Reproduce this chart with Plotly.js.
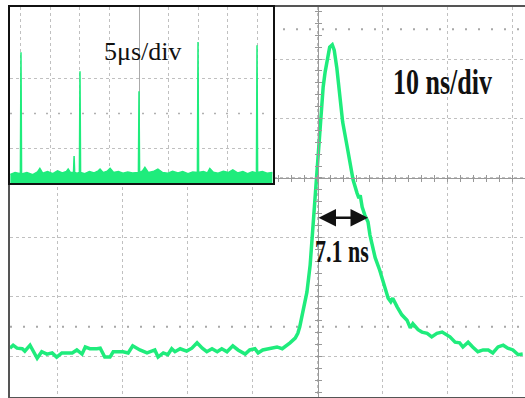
<!DOCTYPE html>
<html>
<head>
<meta charset="utf-8">
<script src="https://cdn.plot.ly/plotly-3.0.1.min.js"></script>
<style>html,body{margin:0;padding:0;background:#fff;}#chart{width:525px;height:398px;}</style>
</head>
<body>
<div id="chart"></div>
<script>
// ---- main trace: pulse, 10 ns/div (time in ns, amplitude in divisions) ----
var time_ns = [-47.4,-46.9,-46.3,-45.5,-45.1,-44.3,-43.2,-42.5,-41.7,-40.9,-40.2,-39.4,-38.6,-37.8,-37.1,-36.3,-35.8,-35.1,-34.0,-33.5,-32.8,-32.0,-31.5,-30.0,-29.2,-28.5,-27.4,-26.3,-25.1,-24.6,-23.8,-23.1,-22.5,-22.0,-21.2,-20.2,-19.4,-18.6,-17.8,-17.1,-16.3,-15.5,-14.8,-14.0,-13.1,-12.3,-11.2,-10.5,-9.7,-9.2,-8.5,-7.4,-6.3,-5.5,-4.8,-4.3,-3.5,-3.1,-2.8,-2.3,-1.7,-1.2,-0.8,-0.5,-0.2,0.2,0.5,0.8,1.1,1.4,1.8,2.2,2.5,2.9,3.4,3.8,4.5,4.9,5.4,6.0,6.3,6.5,6.8,7.2,7.7,8.0,8.5,8.8,9.5,10.3,10.8,11.2,11.5,12.2,12.9,13.7,14.2,14.6,15.4,16.0,16.8,17.5,18.3,19.1,19.8,20.3,21.1,21.8,22.3,23.1,23.8,24.6,25.4,26.2,26.9,27.7,28.5,29.2,30.0,30.8,31.5];
var signal_div = [-2.86,-2.81,-2.86,-2.87,-2.91,-2.81,-3.03,-2.92,-2.96,-2.94,-3.01,-2.94,-2.94,-2.94,-2.89,-2.96,-2.84,-2.87,-2.87,-2.86,-3.01,-3.01,-2.92,-2.92,-2.94,-2.82,-2.89,-2.94,-2.89,-3.01,-2.94,-2.97,-2.87,-2.92,-2.87,-2.91,-2.86,-2.77,-2.86,-2.92,-2.87,-2.92,-2.87,-2.92,-2.82,-2.89,-2.96,-2.89,-2.87,-2.94,-2.89,-2.87,-2.84,-2.87,-2.82,-2.77,-2.69,-2.61,-2.50,-2.25,-1.92,-1.46,-0.84,-0.57,0.02,0.64,1.03,1.53,1.78,1.98,2.20,2.24,2.15,1.85,1.39,0.94,0.52,0.25,-0.03,-0.25,-0.34,-0.29,-0.49,-0.62,-0.74,-0.96,-1.21,-1.34,-1.55,-1.83,-2.02,-2.08,-2.02,-2.17,-2.30,-2.39,-2.52,-2.45,-2.55,-2.59,-2.61,-2.67,-2.61,-2.59,-2.64,-2.67,-2.76,-2.77,-2.84,-2.76,-2.84,-2.92,-2.89,-2.89,-2.94,-2.84,-2.81,-2.86,-2.89,-2.97,-2.96];

// ---- inset trace: pulse train, 5 us/div (time in us, amplitude in divisions) ----
var inset_time_us = [-21.8,-21.0,-20.1,-20.0,-19.9,-19.0,-18.0,-17.2,-16.8,-16.3,-15.5,-14.6,-13.8,-13.0,-12.3,-12.0,-11.6,-11.1,-11.0,-10.9,-10.5,-10.1,-10.0,-9.9,-9.2,-8.4,-7.6,-6.9,-6.6,-6.1,-5.4,-4.9,-4.3,-3.5,-2.7,-1.9,-1.1,-0.1,0.0,0.1,0.6,1.0,1.6,2.4,3.2,4.0,4.9,5.7,6.6,7.4,8.3,9.1,9.9,10.0,10.1,10.9,11.6,12.0,12.6,13.4,14.3,15.1,15.9,16.7,17.6,18.4,19.2,19.9,20.0,20.1,20.9,21.7,22.6];
var inset_level = [0.25,0.30,0.27,3.77,0.26,0.30,0.24,0.32,0.42,0.28,0.33,0.27,0.35,0.29,0.33,0.40,0.30,0.30,0.78,0.30,0.28,0.30,3.22,0.30,0.27,0.33,0.29,0.35,0.40,0.30,0.34,0.42,0.30,0.33,0.28,0.32,0.29,0.30,2.64,0.30,0.35,0.45,0.30,0.33,0.40,0.30,0.28,0.34,0.29,0.33,0.27,0.32,0.30,4.06,0.30,0.33,0.29,0.42,0.31,0.28,0.34,0.30,0.38,0.29,0.33,0.27,0.32,0.29,3.97,0.30,0.33,0.28,0.30];

// ---- annotations / markers ----
var fwhm_start_ns = -0.15, fwhm_end_ns = 7.7, fwhm_level = -0.67;
var fwhm_label = "7.1 ns";
var main_scale_label = "10 ns/div";
var inset_scale_label = "5\u03bcs/div";
var cursor_levels = [2.5, -2.5];
var inset_cursor_levels = [2];

var xr = [-47.38, 31.85], yr = [-3.681, 2.874];
var x2r = [-21.86, 22.71], y2r = [0, 5.07];
var green = '#1fec7c';
var serif = 'Liberation Serif, Times New Roman, serif';

var gridStyle = {showgrid:true, gridcolor:'#c0c0c0', griddash:'dot', gridwidth:1, zeroline:false, showticklabels:false, ticks:''};

var traces = [
  {x: time_ns, y: signal_div, type:'scatter', mode:'lines', line:{color:green, width:3.5}, xaxis:'x', yaxis:'y', hoverinfo:'skip'},
  {x:[null], y:[null], xaxis:'x3', yaxis:'y', mode:'lines', hoverinfo:'skip'},
  {x:[null], y:[null], xaxis:'x4', yaxis:'y', mode:'lines', hoverinfo:'skip'},
  {x:[null], y:[null], xaxis:'x', yaxis:'y3', mode:'lines', hoverinfo:'skip'},
  {x:[null], y:[null], xaxis:'x', yaxis:'y4', mode:'lines', hoverinfo:'skip'},
  {x: inset_time_us, y: inset_level, type:'scatter', mode:'lines', line:{color:green, width:1.5}, fill:'tozeroy', fillcolor:green, xaxis:'x2', yaxis:'y2', hoverinfo:'skip'}
];

var xfrac0 = (0 - xr[0]) / (xr[1] - xr[0]);
var yfrac0 = (0 - yr[0]) / (yr[1] - yr[0]);

var shapes = [];
cursor_levels.forEach(function(v){
  shapes.push({type:'line', xref:'x', yref:'y', x0:xr[0], x1:xr[1], y0:v, y1:v, layer:'below', line:{color:'#a8a8a8', width:2, dash:'2px,11px'}});
});
inset_cursor_levels.forEach(function(v){
  shapes.push({type:'line', xref:'x2', yref:'y2', x0:x2r[0], x1:x2r[1], y0:v, y1:v, layer:'below', line:{color:'#b0b0b0', width:1.5, dash:'2px,10px'}});
});

var layout = {
  width:525, height:398,
  margin:{l:10, r:0, t:7, b:1, pad:0},
  paper_bgcolor:'#ffffff', plot_bgcolor:'#ffffff',
  showlegend:false,
  xaxis: Object.assign({}, gridStyle, {range:xr, dtick:10, tick0:0, domain:[0,1], anchor:'y', showline:true, mirror:true, linecolor:'#555', linewidth:2}),
  yaxis: Object.assign({}, gridStyle, {range:yr, dtick:1, tick0:0, domain:[0,1], anchor:'x', showline:true, mirror:false, linecolor:'#555', linewidth:2}),
  xaxis3: {overlaying:'x', anchor:'free', position:yfrac0, side:'bottom', range:xr, showgrid:false, zeroline:false, showticklabels:false, showline:true, linecolor:'#999', linewidth:1, ticks:'outside', ticklen:3, tickwidth:1, tickcolor:'#999', dtick:2, tick0:0},
  xaxis4: {overlaying:'x', anchor:'free', position:yfrac0, side:'top', range:xr, showgrid:false, zeroline:false, showticklabels:false, showline:false, ticks:'outside', ticklen:3, tickwidth:1, tickcolor:'#999', dtick:2, tick0:0},
  yaxis3: {overlaying:'y', anchor:'free', position:xfrac0, side:'left', range:yr, showgrid:false, zeroline:false, showticklabels:false, showline:true, linecolor:'#999', linewidth:1, ticks:'outside', ticklen:3, tickwidth:1, tickcolor:'#999', dtick:0.2, tick0:0},
  yaxis4: {overlaying:'y', anchor:'free', position:xfrac0, side:'right', range:yr, showgrid:false, zeroline:false, showticklabels:false, showline:false, ticks:'outside', ticklen:3, tickwidth:1, tickcolor:'#999', dtick:0.2, tick0:0},
  xaxis2: Object.assign({}, gridStyle, {range:x2r, dtick:5, tick0:0, domain:[0,0.5107], anchor:'y2', showline:true, mirror:true, linecolor:'#111', linewidth:2, zeroline:true, zerolinecolor:'#aaaaaa', zerolinewidth:1}),
  yaxis2: Object.assign({}, gridStyle, {range:y2r, tickvals:[1,3], domain:[0.5487,1], anchor:'x2', showline:true, mirror:true, linecolor:'#111', linewidth:2}),
  shapes: shapes,
  annotations: [
    {xref:'x', yref:'y', x:19.2, y:1.61, text:'<b>'+main_scale_label+'</b>', showarrow:false, font:{family:serif, size:26, color:'#111'}},
    {xref:'x', yref:'y', x:3.7, y:-1.24, text:'<b>'+fwhm_label+'</b>', showarrow:false, font:{family:serif, size:22, color:'#111'}},
    {xref:'x2', yref:'y2', x:0.6, y:3.78, text:inset_scale_label, showarrow:false, font:{family:serif, size:26, color:'#111'}},
    {xref:'x', yref:'y', axref:'x', ayref:'y', x:fwhm_end_ns, y:fwhm_level, ax:fwhm_start_ns, ay:fwhm_level, text:'', showarrow:true, arrowside:'end+start', arrowhead:2, startarrowhead:2, arrowsize:1.4, startarrowsize:1.4, arrowwidth:2.5, arrowcolor:'#111', standoff:0, startstandoff:0}
  ]
};

// vertical stretch of the label glyphs (condensed-looking serif in the original)
var textScale = {};
textScale[main_scale_label] = [1.0, 1.4];
textScale[fwhm_label] = [1.0, 1.45];

Plotly.newPlot('chart', traces, layout, {staticPlot:true, displayModeBar:false}).then(function(){
  document.querySelectorAll('text.annotation-text').forEach(function(t){
    var s = textScale[t.textContent];
    if(!s) return;
    var b = t.getBBox();
    var cx = b.x + b.width/2, cy = b.y + b.height/2;
    var prev = t.getAttribute('transform') || '';
    t.setAttribute('transform', prev + ' translate(' + cx + ',' + cy + ') scale(' + s[0] + ',' + s[1] + ') translate(' + (-cx) + ',' + (-cy) + ')');
  });
});
</script>
</body>
</html>
